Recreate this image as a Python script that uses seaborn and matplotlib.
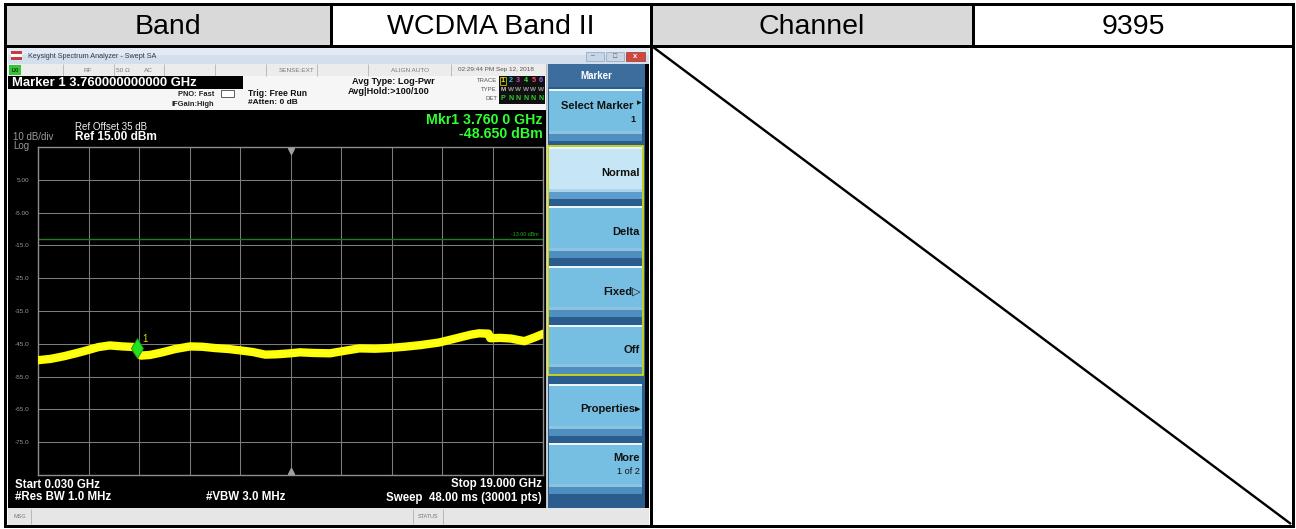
import numpy as np
import pandas as pd
import matplotlib
matplotlib.use("Agg")
import matplotlib.pyplot as plt
from matplotlib.patches import Rectangle
import matplotlib.transforms as mtransforms
import seaborn as sns

# ---------------- data ----------------
header_labels = ["Band", "WCDMA Band II", "Channel", "9395"]

start_ghz = 0.030
stop_ghz = 19.000
ref_level_dbm = 15.0
db_per_div = 10.0
limit_dbm = -13.0
marker_ghz = 3.760
marker_dbm = -48.650

ytick_values = [5, -5, -15, -25, -35, -45, -55, -65, -75]
ytick_labels = ["5.00", "-5.00", "-15.0", "-25.0", "-35.0", "-45.0", "-55.0", "-65.0", "-75.0"]

trace_freq_ghz = [0.03, 0.5, 1.0, 1.5, 1.91, 2.3, 2.73, 3.2, 3.67, 3.76, 3.9, 4.24, 4.7,
                  5.18, 5.74, 6.2, 6.68, 7.2, 7.62, 8.1, 8.56, 9.0, 9.5, 9.87, 10.4,
                  11.0, 11.5, 12.1, 12.7, 13.2, 13.8, 14.4, 15.1, 15.5, 15.9, 16.3,
                  16.6, 16.95, 17.02, 17.4, 17.8, 18.3, 18.7, 19.0]
trace_level_dbm = [-50.0, -49.6, -48.8, -47.8, -46.9, -46.0, -45.5, -45.8, -46.0, -47.2, -48.6,
                   -48.4, -47.6, -46.6, -45.8, -45.9, -46.3, -46.6, -47.0, -47.5, -48.3,
                   -48.2, -47.9, -47.6, -47.8, -47.9, -47.2, -46.4, -46.5, -46.3, -45.9,
                   -45.4, -44.6, -43.8, -43.0, -42.2, -41.8, -41.9, -43.3, -43.2, -43.4,
                   -44.2, -43.0, -42.0]

softkey_title = "Marker"
softkey_labels = ["Select Marker", "Normal", "Delta", "Fixed\u25B7", "Off", "Properties\u25B8", "More"]

# ---------------- figure ----------------
W, H = 1296, 529
plt.rcParams["font.family"] = ["Liberation Sans", "DejaVu Sans"]
fig = plt.figure(figsize=(W / 100, H / 100), dpi=100)
fig.patch.set_facecolor("white")

ov = fig.add_axes([0, 0, 1, 1])
ov.set_xlim(0, W)
ov.set_ylim(H, 0)
ov.axis("off")

PX = 0.72  # points per pixel


def rect(x0, y0, x1, y1, fc, ec="none", lw=0, z=1):
    ov.add_patch(Rectangle((x0, y0), x1 - x0, y1 - y0, facecolor=fc, edgecolor=ec,
                           linewidth=lw, zorder=z))


def line(xs, ys, c, lw, z=3):
    ov.plot(xs, ys, color=c, linewidth=lw, zorder=z, solid_capstyle="butt")


def txt(x, y, s, size, color="black", weight="normal", ha="left", va="center", z=5):
    ov.text(x, y, s, fontsize=size, color=color, fontweight=weight, ha=ha, va=va, zorder=z)


# ---------- table ----------
rect(5, 4, 331, 45, "#d9d9d9")
rect(651, 4, 973, 45, "#d9d9d9")
centers = [168, 491, 812, 1133]
for cx, lab in zip(centers, header_labels):
    txt(cx, 26.5, lab, 20.5, ha="center")

# ---------- screenshot ----------
rect(8, 47, 649, 526, "black", z=1)
# title bar
rect(8, 47, 649, 64, "#d3dfec", z=2)
rect(8, 47, 649, 55, "#e2ebf5", z=2)
rect(11, 51, 22, 60, "#ffffff", z=3)
rect(11, 51, 22, 54, "#c83c3c", z=3)
rect(11, 57, 22, 60, "#c83c3c", z=3)
txt(28, 56.5, "Keysight Spectrum Analyzer - Swept SA", 5.2, color="#303848")
rect(586, 52, 604, 61, "#c9d6e6", ec="#8fa3bb", lw=0.5, z=3)
rect(606, 52, 624, 61, "#c9d6e6", ec="#8fa3bb", lw=0.5, z=3)
rect(626, 52, 645, 61, "#d2473b", ec="#8f3a30", lw=0.5, z=3)
txt(593, 56, "\u2013", 5, color="#555555", ha="center")
txt(615, 56, "\u25A1", 5, color="#555555", ha="center")
txt(635.5, 56.5, "x", 5.5, color="white", weight="bold", ha="center")

# status row
rect(8, 64, 546, 76, "#ececec", z=2)
for xd in [63, 114, 164, 215, 266, 317, 368, 451]:
    line([xd, xd], [64, 76], "#b4b4b4", 0.6)
rect(9, 65, 21, 75, "#36c436", z=3)
txt(15, 70, "LXI", 3.3, color="#103010", weight="bold", ha="center")
txt(88, 70, "RF", 4.6, color="#7a7a7a", ha="center")
txt(123, 70, "50 \u03A9", 4.6, color="#7a7a7a", ha="center")
txt(148, 70, "AC", 4.6, color="#7a7a7a", ha="center")
txt(279, 70, "SENSE:EXT", 4.6, color="#7a7a7a")
txt(410, 70, "ALIGN AUTO", 4.6, color="#7a7a7a", ha="center")
txt(496, 70, "02:29:44 PM Sep 12, 2018", 4.6, color="#555555", ha="center")

# info region
rect(8, 76, 546, 110, "#f6f6f6", z=2)
rect(8, 76, 243, 89, "black", z=3)
txt(12, 82.5, "Marker 1 3.760000000000 GHz", 9.4, color="white", weight="bold")
txt(214, 94, "PNO: Fast", 5.4, color="#222222", weight="bold", ha="right")
txt(214, 104, "IFGain:High", 5.4, color="#222222", weight="bold", ha="right")
rect(221, 90, 234, 97, "white", ec="#444444", lw=0.6, z=3)
txt(248, 94, "Trig: Free Run", 6.2, color="#111111", weight="bold")
txt(248, 102.5, "#Atten: 0 dB", 6.0, color="#111111", weight="bold")
txt(352, 81, "Avg Type: Log-Pwr", 6.6, color="#111111", weight="bold")
txt(348, 91.5, "Avg|Hold:>100/100", 6.6, color="#111111", weight="bold")
txt(497, 80, "TRACE", 4.3, color="#555555", ha="right")
txt(497, 89.5, "TYPE", 4.3, color="#555555", ha="right")
txt(497, 98.5, "DET", 4.3, color="#555555", ha="right")
rect(499, 76, 545, 104, "#101010", z=3)
trace_colors = ["#e8e800", "#20b8ff", "#d040d0", "#40e040", "#ff5050", "#9060ff"]
for i, c in enumerate(trace_colors):
    xx = 503 + i * 7.6
    txt(xx, 80.5, str(i + 1), 5.2, color=c, weight="bold", ha="center")
    txt(xx, 89.5, "M" if i == 0 else "W", 4.6, color="#d0d0d0" if i == 0 else "#9a9a9a",
        weight="bold", ha="center")
    txt(xx, 98.5, "P" if i == 0 else "N", 5.0, color="#30d030", weight="bold", ha="center")
rect(500, 76.5, 506, 85, "none", ec="#e8e800", lw=0.5, z=4)

# graph area annotations
txt(75, 126.5, "Ref Offset 35 dB", 7.0, color="#f0f0f0")
txt(75, 137.5, "Ref 15.00 dBm", 8.6, color="white", weight="bold")
txt(13, 137.5, "10 dB/div", 7.0, color="#9a9a9a")
txt(13, 146, "Log", 7.0, color="#9a9a9a")
txt(543, 120.5, "Mkr1 3.760 0 GHz", 10.2, color="#30ff30", weight="bold", ha="right")
txt(543, 133.5, "-48.650 dBm", 10.2, color="#30ff30", weight="bold", ha="right")
txt(15, 484.5, "Start 0.030 GHz", 8.3, color="white", weight="bold")
txt(15, 497.5, "#Res BW 1.0 MHz", 8.3, color="white", weight="bold")
txt(206, 497.5, "#VBW 3.0 MHz", 8.3, color="white", weight="bold")
txt(542, 484.5, "Stop 19.000 GHz", 8.3, color="white", weight="bold", ha="right")
txt(542, 497.5, "Sweep  48.00 ms (30001 pts)", 8.3, color="white", weight="bold", ha="right")

# separator & softkey panel
line([546.5, 546.5], [64, 508], "#e8e8e8", 1.2)
rect(547, 64, 645, 508, "#2b5c8e", z=2)
rect(547, 64, 645, 87, "#3d6d9d", z=2)
txt(596, 76, softkey_title, 7.0, color="white", weight="bold", ha="center")

buttons = [(89, 141), (147, 199), (206, 258), (266, 317), (325, 374), (384, 436), (443, 494)]
for i, (y0, y1) in enumerate(buttons):
    base = "#c7e6f5" if i == 1 else "#77bfe2"
    rect(549, y0, 642, y1, base, z=3)
    rect(549, y0, 642, y0 + 2, "#eaf6fc", z=3)
    rect(549, y1 - 7, 642, y1, "#4f8fc0" if i != 1 else "#5e9ccb", z=3)
    rect(549, y1 - 10, 642, y1 - 7, "#8cc3e0" if i != 1 else "#a9d4ec", z=3)
rect(547.5, 146, 642.5, 375, "none", ec="#f0f000", lw=1.1, z=4)

txt(633, 106, "Select Marker", 8.0, color="#111111", weight="bold", ha="right")
txt(641, 103, "\u25B8", 6.5, color="#111111", ha="right")
txt(636, 120, "1", 6.5, color="#111111", weight="bold", ha="right")
txt(640, 173.5, softkey_labels[1], 8.0, color="#111111", weight="bold", ha="right")
txt(640, 232, softkey_labels[2], 8.0, color="#111111", weight="bold", ha="right")
txt(641, 291.5, softkey_labels[3], 8.0, color="#111111", weight="bold", ha="right")
txt(640, 350, softkey_labels[4], 8.0, color="#111111", weight="bold", ha="right")
txt(641, 409, softkey_labels[5], 8.0, color="#111111", weight="bold", ha="right")
txt(640, 458, softkey_labels[6], 8.0, color="#111111", weight="bold", ha="right")
txt(640, 471.5, "1 of 2", 6.6, color="#111111", ha="right")

# bottom status bar
rect(8, 508, 649, 525, "#e6e6e6", z=2)
line([31, 31], [509, 524], "#b0b0b0", 0.6)
line([413, 413], [509, 524], "#b0b0b0", 0.6)
line([443, 443], [509, 524], "#b0b0b0", 0.6)
txt(13, 517, "MSG", 4.0, color="#777777")
txt(428, 517, "STATUS", 4.0, color="#777777", ha="center")

# table borders and diagonal
bw = 3 * PX
ov.add_patch(Rectangle((5, 4), 1288, 522, facecolor="none", edgecolor="black",
                       linewidth=bw, zorder=8))
line([5, 1293], [45.5, 45.5], "black", bw, z=8)
line([331, 331], [4, 45.5], "black", bw, z=8)
line([651, 651], [4, 526], "black", bw, z=8)
line([973, 973], [4, 45.5], "black", bw, z=8)
line([653, 1291], [47, 524], "black", 2.4 * PX, z=8)

# ---------- spectrum graticule ----------
ax = fig.add_axes([38 / W, 1 - 475 / H, 505 / W, 328 / H])
ax.set_zorder(3)
ax.set_facecolor("black")
bottom_dbm = ref_level_dbm - 10 * db_per_div
ax.set_xlim(start_ghz, stop_ghz)
ax.set_ylim(bottom_dbm, ref_level_dbm)
span = stop_ghz - start_ghz
ax.set_xticks([start_ghz + k * span / 10 for k in range(1, 10)])
ax.set_xticklabels([])
ax.set_yticks(ytick_values)
ax.set_yticklabels(ytick_labels)
ax.tick_params(axis="both", length=0)
ax.tick_params(axis="y", pad=6, labelsize=4.6, labelcolor="#9a9a9a")
ax.grid(True, color="#7c7c7c", linewidth=0.75)
ax.set_axisbelow(True)
for s in ax.spines.values():
    s.set_color("#8e8e8e")
    s.set_linewidth(1.0)

ax.axhline(limit_dbm, color="#1f7f1f", linewidth=1.0, zorder=2)
ax.annotate("-13.00 dBm", xy=(1, limit_dbm), xycoords=("axes fraction", "data"),
            xytext=(-4, 2), textcoords="offset pixels", ha="right", va="bottom",
            fontsize=3.8, color="#22b022")

df = pd.DataFrame({"freq": trace_freq_ghz, "level": trace_level_dbm})
sns.lineplot(data=df, x="freq", y="level", ax=ax, color="#ffff00", linewidth=6.0,
             estimator=None, sort=False, legend=False, zorder=3)
sns.lineplot(data=df, x="freq", y="level", ax=ax, color="#ffff30", linewidth=1.2,
             estimator=None, sort=False, legend=False, zorder=3)
ax.set_xlabel("")
ax.set_ylabel("")

center_ghz = (start_ghz + stop_ghz) / 2
up = mtransforms.offset_copy(ax.transData, fig=fig, x=0, y=-4, units="dots")
dn = mtransforms.offset_copy(ax.transData, fig=fig, x=0, y=4, units="dots")
ax.plot([center_ghz], [ref_level_dbm], marker="v", ms=5, color="#a0a0a0", transform=up,
        clip_on=False, zorder=4)
ax.plot([center_ghz], [bottom_dbm], marker="^", ms=5, color="#a0a0a0", transform=dn,
        clip_on=False, zorder=4)

mk = mtransforms.offset_copy(ax.transData, fig=fig, x=0, y=8, units="dots")
ax.plot([marker_ghz], [marker_dbm], marker="d", ms=10.5, color="#22e022", mec="#0a8a0a",
        mew=0.6, transform=mk, zorder=5)
ax.annotate("1", xy=(marker_ghz, marker_dbm), xytext=(5, 17), textcoords="offset pixels",
            fontsize=7, color="#d8d820", ha="left", va="center")

fig.savefig("out.png", dpi=100, facecolor="white")
